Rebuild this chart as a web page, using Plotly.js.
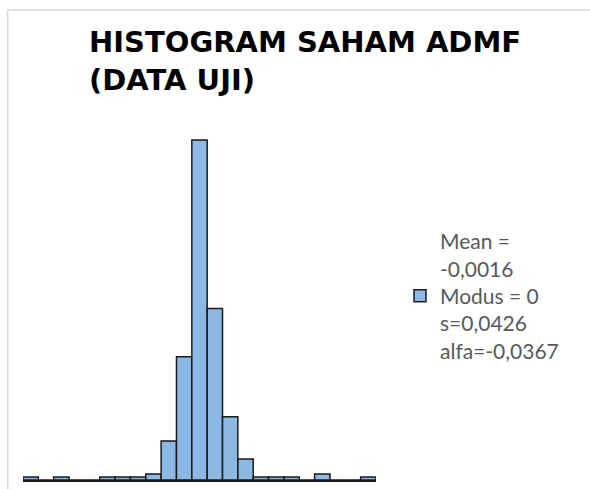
<!DOCTYPE html>
<html>
<head>
<meta charset="utf-8">
<script src="https://cdn.plot.ly/plotly-3.0.1.min.js"></script>
<style>html,body{margin:0;padding:0;background:#fff;}#chart{width:590px;height:489px;}</style>
</head>
<body>
<div id="chart"></div>
<script>
// Bin centres (return value), bin width 0.02
const binCenters = [-0.22,-0.20,-0.18,-0.16,-0.14,-0.12,-0.10,-0.08,-0.06,-0.04,-0.02,0.00,0.02,0.04,0.06,0.08,0.10,0.12,0.14,0.16,0.18,0.20,0.22];
// Frequencies
const counts = [1,0,1,0,0,1,1,1,2,13,41,113,57,21,7,1,1,1,0,2,0,0,1];
const legendLabel = "Mean =<br>-0,0016<br>Modus = 0<br>s=0,0426<br>alfa=-0,0367";
const chartTitle = "HISTOGRAM SAHAM ADMF<br>(DATA UJI)";

const trace = {
  type: 'bar',
  x: binCenters,
  y: counts,
  width: 0.02,
  name: legendLabel,
  marker: {color: '#8cb8e6', line: {color: '#1a1a1a', width: 1.5}},
  showlegend: true,
  hoverinfo: 'x+y'
};

const layout = {
  width: 590, height: 489,
  paper_bgcolor: '#ffffff', plot_bgcolor: '#ffffff',
  margin: {l: 23, r: 214, t: 119, b: 9, pad: 0},
  bargap: 0,
  title: {
    text: chartTitle,
    font: {family: 'DejaVu Sans, sans-serif', size: 29, color: '#000000', weight: 'bold'},
    x: 89/590, xref: 'container', xanchor: 'left',
    y: 1 - 52/489, yref: 'container', yanchor: 'top'
  },
  xaxis: {range: [-0.23, 0.23], showgrid: false, zeroline: false, showticklabels: false, ticks: '',
          showline: true, linecolor: '#1a1a1a', linewidth: 2, fixedrange: true},
  yaxis: {range: [0, 120], showgrid: false, zeroline: false, showticklabels: false, ticks: '', showline: false, fixedrange: true},
  showlegend: true,
  legend: {
    x: 400/590, xref: 'container', xanchor: 'left',
    y: 1 - 296/489, yref: 'container', yanchor: 'middle',
    font: {family: 'Lato, Open Sans, sans-serif', size: 21, color: '#595959'},
    bgcolor: 'rgba(0,0,0,0)', borderwidth: 0
  },
  shapes: [
    {type: 'rect', xref: 'paper', yref: 'paper', layer: 'below',
     x0: -15/345, x1: 1.7, y0: -0.05, y1: 1 + 109/361,
     line: {color: '#d9d9d9', width: 1.5}, fillcolor: 'rgba(0,0,0,0)'}
  ]
};

Plotly.newPlot('chart', [trace], layout, {displayModeBar: false, staticPlot: true});
</script>
</body>
</html>
